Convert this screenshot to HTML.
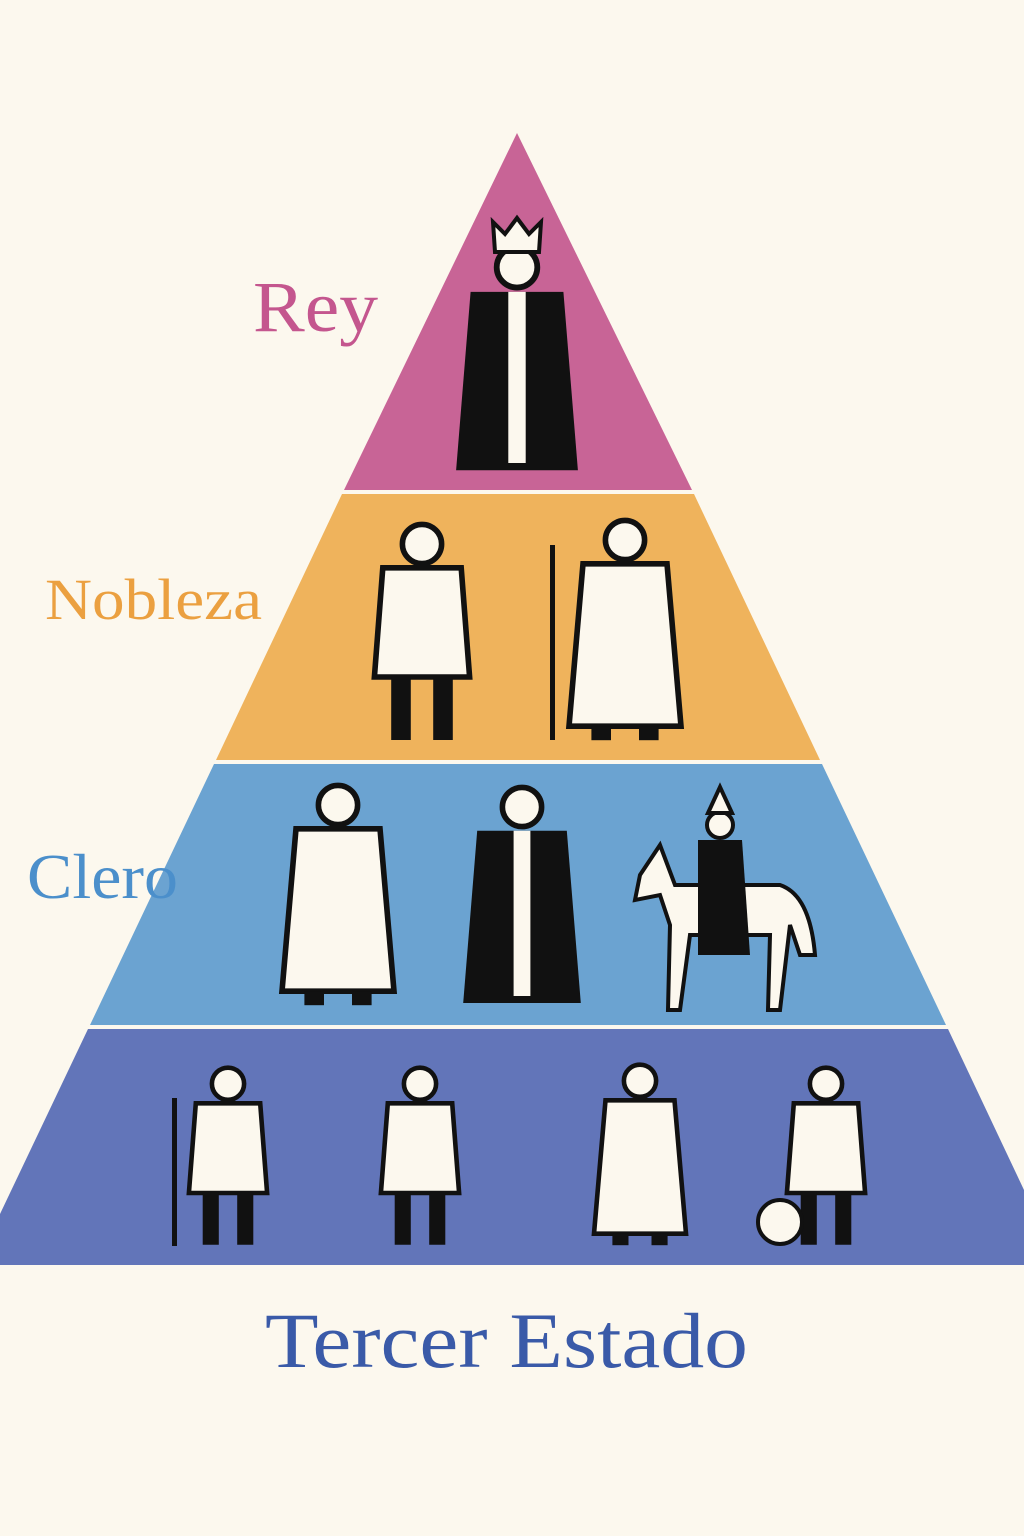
<!DOCTYPE html>
<html><head><meta charset="utf-8"><style>
html,body{margin:0;padding:0;background:#FCF8EE;}
svg{display:block}
text{font-family:"Liberation Serif","DejaVu Serif",serif;}
</style></head><body>
<svg width="1024" height="1536" viewBox="0 0 1024 1536" xmlns="http://www.w3.org/2000/svg">
<defs>
<g id="person">
  <circle cx="0" cy="-95" r="14" fill="#FCF8EE" stroke="#111" stroke-width="4"/>
  <path d="M-28,-78 L28,-78 L34,0 L-34,0 Z" fill="#FCF8EE" stroke="#111" stroke-width="4"/>
  <rect x="-22" y="0" width="14" height="45" fill="#111"/>
  <rect x="8" y="0" width="14" height="45" fill="#111"/>
</g>
<g id="dark">
  <circle cx="0" cy="-95" r="14" fill="#FCF8EE" stroke="#111" stroke-width="4"/>
  <path d="M-32,-78 L32,-78 L42,45 L-42,45 Z" fill="#111"/>
  <path d="M-6,-78 L6,-78 L6,40 L-6,40Z" fill="#FCF8EE"/>
</g>
<g id="robe">
  <circle cx="0" cy="-95" r="14" fill="#FCF8EE" stroke="#111" stroke-width="4"/>
  <path d="M-30,-78 L30,-78 L40,38 L-40,38 Z" fill="#FCF8EE" stroke="#111" stroke-width="4"/>
  <rect x="-24" y="38" width="14" height="10" fill="#111"/>
  <rect x="10" y="38" width="14" height="10" fill="#111"/>
</g>
</defs>
<polygon points="517,133 692,490 344,490" fill="#C86496"/>
<polygon points="342,494 694,494 820,760 216,760" fill="#EFB35C"/>
<polygon points="214,764 822,764 946,1025 90,1025" fill="#6BA3D1"/>
<polygon points="88,1029 948,1029 1024,1190 1024,1265 0,1265 0,1214" fill="#6275B9"/>

<!-- king -->
<use href="#dark" transform="translate(517,405) scale(1.45)"/>
<path d="M495,252 L493,222 L505,234 L517,218 L529,234 L541,222 L539,252Z" fill="#FCF8EE" stroke="#111" stroke-width="4"/>
<rect x="483" y="312" width="6" height="150" fill="#111"/>
<!-- nobles -->
<use href="#person" transform="translate(422,677) scale(1.4)"/>
<use href="#robe" transform="translate(625,673) scale(1.4)"/>
<rect x="550" y="545" width="5" height="195" fill="#111"/>
<!-- clergy -->
<use href="#robe" transform="translate(338,938) scale(1.4)"/>
<use href="#dark" transform="translate(522,940) scale(1.4)"/>
<g transform="translate(720,935)">
  <path d="M-80,-60 L-60,-90 L-45,-50 L60,-50 Q90,-40 95,20 L80,20 L70,-10 L60,75 L48,75 L50,0 L-30,0 L-40,75 L-52,75 L-50,-10 L-60,-40 L-85,-35Z" fill="#FCF8EE" stroke="#111" stroke-width="4"/>
  <path d="M-22,-95 L22,-95 L30,20 L-22,20Z" fill="#111"/>
  <circle cx="0" cy="-110" r="13" fill="#FCF8EE" stroke="#111" stroke-width="4"/>
  <path d="M-12,-122 L0,-148 L12,-122Z" fill="#FCF8EE" stroke="#111" stroke-width="4"/>
</g>
<!-- peasants -->
<use href="#person" transform="translate(228,1193) scale(1.15)"/>
<rect x="172" y="1098" width="5" height="148" fill="#111"/>
<use href="#person" transform="translate(420,1193) scale(1.15)"/>
<use href="#robe" transform="translate(640,1190) scale(1.15)"/>
<use href="#person" transform="translate(826,1193) scale(1.15)"/>
<circle cx="780" cy="1222" r="22" fill="#FCF8EE" stroke="#111" stroke-width="4"/>

<text x="253" y="331" font-size="72" fill="#C4568E" textLength="125" lengthAdjust="spacingAndGlyphs">Rey</text>
<text x="45" y="619" font-size="58" fill="#EBA040" textLength="217" lengthAdjust="spacingAndGlyphs">Nobleza</text>
<text x="27" y="898" font-size="64" fill="#4B8FCB" textLength="151" lengthAdjust="spacingAndGlyphs">Clero</text>
<text x="265" y="1367" font-size="78" fill="#3A5AA8" textLength="483" lengthAdjust="spacingAndGlyphs">Tercer Estado</text>
</svg>
</body></html>
